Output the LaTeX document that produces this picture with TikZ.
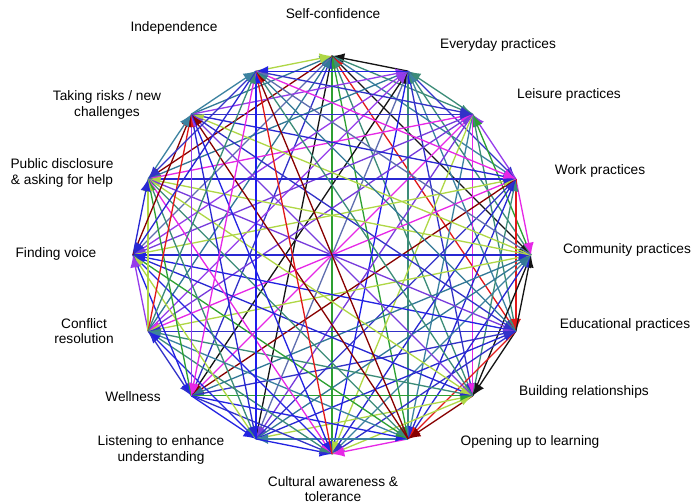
\documentclass[tikz,border=0pt]{standalone}
\usepackage{fontspec}
\setmainfont{Liberation Sans}
\usetikzlibrary{arrows.meta}
\tikzset{>={Latex[length=7pt,width=6pt]}}
\definecolor{lnk0}{RGB}{35,35,225}
\definecolor{lnk1}{RGB}{150,60,235}
\definecolor{lnk2}{RGB}{225,25,25}
\definecolor{lnk3}{RGB}{135,0,0}
\definecolor{lnk4}{RGB}{45,160,50}
\definecolor{lnk5}{RGB}{175,215,70}
\definecolor{lnk6}{RGB}{50,120,150}
\definecolor{lnk7}{RGB}{20,20,20}
\definecolor{lnk8}{RGB}{230,40,230}
\definecolor{lnk9}{RGB}{95,110,175}
\definecolor{lnk10}{RGB}{40,40,210}
\definecolor{lnk11}{RGB}{60,140,120}
\definecolor{lnk12}{RGB}{50,50,200}
\definecolor{lnk13}{RGB}{120,60,220}
\definecolor{lnk14}{RGB}{60,130,160}
\definecolor{lnk15}{RGB}{30,30,235}
\tikzset{link/.style = {line width=0.75pt,->},
  caption/.style = {font=\fontsize{7.8}{8.8}\selectfont, align=center, inner sep=0pt}}

\begin{document}
\begin{tikzpicture}
  \useasboundingbox (-6.64,-4.96) rectangle (7.2,5.1);
  \pgfmathsetseed{11}
  % hubs round the circle, clockwise from the top
  \foreach \k in {1,...,16}
    \coordinate (v\k) at ({112.5-22.5*\k}:3.98);

  % every pair of hubs is linked
  \foreach \i in {1,...,15}{
    \pgfmathtruncatemacro\first{\i+1}
    \foreach \j in {\first,...,16}{
      \pgfmathrandominteger{\c}{0}{15}
      \pgfmathrandominteger{\d}{0}{1}
      \ifnum\d=0 \draw[link,lnk\c] (v\i) -- (v\j);
      \else \draw[link,lnk\c] (v\j) -- (v\i); \fi
    }
  }

  \node[caption] (conf) at (0.02,4.82) {Self-confidence};
  \node[caption] (every) at (3.32,4.2) {Everyday practices};
  \node[caption] (leis) at (4.74,3.2) {Leisure practices};
  \node[caption] (work) at (5.36,1.68) {Work practices};
  \node[caption] (comm) at (5.9,0.1) {Community practices};
  \node[caption] (educ) at (5.86,-1.4) {Educational practices};
  \node[caption] (build) at (5.04,-2.74) {Building relationships};
  \node[caption] (open) at (3.96,-3.74) {Opening up to learning};
  \node[caption] (cult) at (0.02,-4.68) {Cultural awareness \&\\tolerance};
  \node[caption] (listen) at (-3.42,-3.9) {Listening to enhance\\understanding};
  \node[caption] (well) at (-3.98,-2.84) {Wellness};
  \node[caption] (confl) at (-4.96,-1.52) {Conflict\\resolution};
  \node[caption] (voice) at (-5.52,0.02) {Finding voice};
  \node[caption] (public) at (-5.4,1.64) {Public disclosure\\\& asking for help};
  \node[caption] (risk) at (-4.5,3.0) {Taking risks / new\\challenges};
  \node[caption] (indep) at (-3.16,4.54) {Independence};
\end{tikzpicture}
\end{document}
